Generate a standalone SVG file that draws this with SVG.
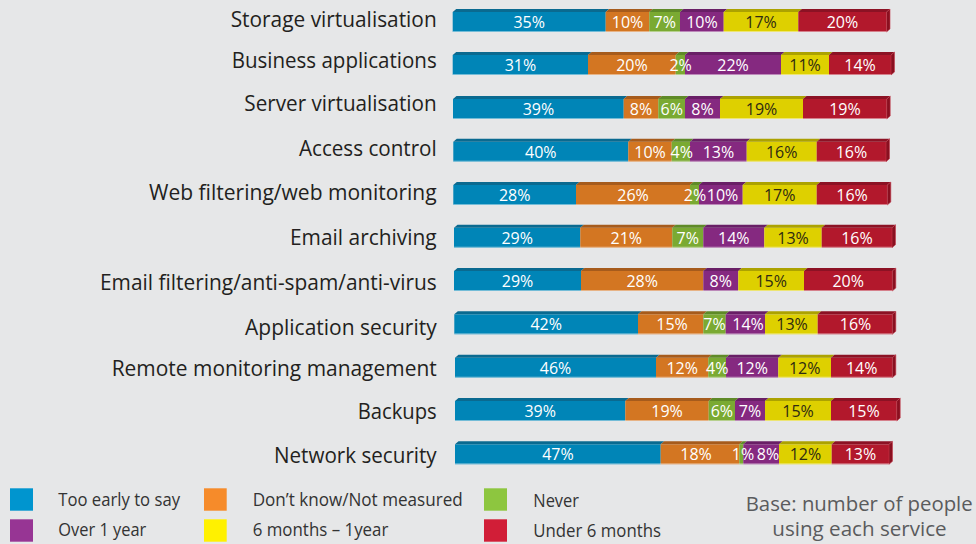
<svg xmlns="http://www.w3.org/2000/svg" width="976" height="544" viewBox="0 0 976 544">
  <style>
    .lbl { font-family: "Open Sans", "Noto Sans", sans-serif; font-size: 22px; fill: #231F20; text-anchor: end; }
    .pct { font-family: "Open Sans", "Noto Sans", sans-serif; font-size: 16px; fill: #FFFFFF; text-anchor: middle; }
    .pct.dk { fill: #2E2A12; }
    .leg { font-family: "Open Sans", "Noto Sans", sans-serif; font-size: 18px; fill: #333333; }
    .base { font-family: "Open Sans", "Noto Sans", sans-serif; font-size: 20px; fill: #5A5B5D; text-anchor: middle; }
    .f1 { fill: #0085B7; } .t1 { fill: #0A6A90; }
    .f2 { fill: #D37622; } .t2 { fill: #A65B1C; }
    .f3 { fill: #7AAA32; } .t3 { fill: #5F8A27; }
    .f4 { fill: #852980; } .t4 { fill: #691F66; }
    .f5 { fill: #DED000; } .t5 { fill: #ACA200; }
    .f6 { fill: #B2182C; } .t6 { fill: #8C1224; }
    .side { fill: #8A1020; stroke: #C23A4C; stroke-width: 0.6; }
    .edge { stroke: #FFFFFF; stroke-opacity: 0.45; stroke-width: 1; fill: none; }
    .k1 { fill: #0095CF; } .k2 { fill: #F68B2A; } .k3 { fill: #8DC63F; }
    .k4 { fill: #973594; } .k5 { fill: #FFF100; } .k6 { fill: #D11E37; }
  </style>

  <rect width="976" height="544" fill="#E6E7E8"/>

  <!-- Storage virtualisation -->
  <g id="row-storage-virtualisation" transform="translate(0,12)">
    <text class="lbl" x="436.7" y="14.7" textLength="206" lengthAdjust="spacingAndGlyphs">Storage virtualisation</text>
    <rect class="f1" x="452.7" y="0" width="153" height="20"/><polygon class="t1" points="452.7,0 456.2,-3 609.2,-3 605.7,0"/>
    <rect class="f2" x="605.7" y="0" width="43.6" height="20"/><polygon class="t2" points="605.7,0 609.2,-3 652.8,-3 649.3,0"/>
    <rect class="f3" x="649.3" y="0" width="30.7" height="20"/><polygon class="t3" points="649.3,0 652.8,-3 683.5,-3 680,0"/>
    <rect class="f4" x="680" y="0" width="43.7" height="20"/><polygon class="t4" points="680,0 683.5,-3 727.2,-3 723.7,0"/>
    <rect class="f5" x="723.7" y="0" width="74.6" height="20"/><polygon class="t5" points="723.7,0 727.2,-3 801.8,-3 798.3,0"/>
    <rect class="f6" x="798.3" y="0" width="88.2" height="20"/><polygon class="t6" points="798.3,0 801.8,-3 890,-3 886.5,0"/>
    <polygon class="side" points="886.5,0 890,-3 890,17 886.5,20"/>
    <line class="edge" x1="452.7" y1="19.5" x2="886.5" y2="19.5"/>
    <text class="pct" x="529.2" y="15.8">35%</text>
    <text class="pct" x="627.5" y="15.8">10%</text>
    <text class="pct" x="664.7" y="15.8">7%</text>
    <text class="pct" x="701.9" y="15.8">10%</text>
    <text class="pct dk" x="761" y="15.8">17%</text>
    <text class="pct" x="842.4" y="15.8">20%</text>
  </g>

  <!-- Business applications -->
  <g id="row-business-applications" transform="translate(0,55)">
    <text class="lbl" x="436.7" y="13.3" textLength="205" lengthAdjust="spacingAndGlyphs">Business applications</text>
    <rect class="f1" x="452.7" y="0" width="135.3" height="20"/><polygon class="t1" points="452.7,0 456.2,-3 591.5,-3 588,0"/>
    <rect class="f2" x="588" y="0" width="87.7" height="20"/><polygon class="t2" points="588,0 591.5,-3 679.2,-3 675.7,0"/>
    <rect class="f3" x="675.7" y="0" width="9.3" height="20"/><polygon class="t3" points="675.7,0 679.2,-3 688.5,-3 685,0"/>
    <rect class="f4" x="685" y="0" width="96" height="20"/><polygon class="t4" points="685,0 688.5,-3 784.5,-3 781,0"/>
    <rect class="f5" x="781" y="0" width="48" height="20"/><polygon class="t5" points="781,0 784.5,-3 832.5,-3 829,0"/>
    <rect class="f6" x="829" y="0" width="62" height="20"/><polygon class="t6" points="829,0 832.5,-3 894.5,-3 891,0"/>
    <polygon class="side" points="891,0 894.5,-3 894.5,17 891,20"/>
    <line class="edge" x1="452.7" y1="19.5" x2="891" y2="19.5"/>
    <text class="pct" x="520.4" y="15.8">31%</text>
    <text class="pct" x="631.9" y="15.8">20%</text>
    <text class="pct" x="680.6" y="15.8">2%</text>
    <text class="pct" x="733" y="15.8">22%</text>
    <text class="pct dk" x="805" y="15.8">11%</text>
    <text class="pct" x="860" y="15.8">14%</text>
  </g>

  <!-- Server virtualisation -->
  <g id="row-server-virtualisation" transform="translate(0,99)">
    <text class="lbl" x="436.7" y="12" textLength="192.4" lengthAdjust="spacingAndGlyphs">Server virtualisation</text>
    <rect class="f1" x="453" y="0" width="170.7" height="20"/><polygon class="t1" points="453,0 456.5,-3 627.2,-3 623.7,0"/>
    <rect class="f2" x="623.7" y="0" width="34.6" height="20"/><polygon class="t2" points="623.7,0 627.2,-3 661.8,-3 658.3,0"/>
    <rect class="f3" x="658.3" y="0" width="26.7" height="20"/><polygon class="t3" points="658.3,0 661.8,-3 688.5,-3 685,0"/>
    <rect class="f4" x="685" y="0" width="35" height="20"/><polygon class="t4" points="685,0 688.5,-3 723.5,-3 720,0"/>
    <rect class="f5" x="720" y="0" width="83" height="20"/><polygon class="t5" points="720,0 723.5,-3 806.5,-3 803,0"/>
    <rect class="f6" x="803" y="0" width="83.7" height="20"/><polygon class="t6" points="803,0 806.5,-3 890.2,-3 886.7,0"/>
    <polygon class="side" points="886.7,0 890.2,-3 890.2,17 886.7,20"/>
    <line class="edge" x1="453" y1="19.5" x2="886.7" y2="19.5"/>
    <text class="pct" x="538.4" y="15.8">39%</text>
    <text class="pct" x="641" y="15.8">8%</text>
    <text class="pct" x="671.7" y="15.8">6%</text>
    <text class="pct" x="702.5" y="15.8">8%</text>
    <text class="pct dk" x="761.5" y="15.8">19%</text>
    <text class="pct" x="844.9" y="15.8">19%</text>
  </g>

  <!-- Access control -->
  <g id="row-access-control" transform="translate(0,141.7)">
    <text class="lbl" x="436.7" y="14.3" textLength="137.7" lengthAdjust="spacingAndGlyphs">Access control</text>
    <rect class="f1" x="453.3" y="0" width="175" height="20"/><polygon class="t1" points="453.3,0 456.8,-3 631.8,-3 628.3,0"/>
    <rect class="f2" x="628.3" y="0" width="43.4" height="20"/><polygon class="t2" points="628.3,0 631.8,-3 675.2,-3 671.7,0"/>
    <rect class="f3" x="671.7" y="0" width="18.3" height="20"/><polygon class="t3" points="671.7,0 675.2,-3 693.5,-3 690,0"/>
    <rect class="f4" x="690" y="0" width="56.7" height="20"/><polygon class="t4" points="690,0 693.5,-3 750.2,-3 746.7,0"/>
    <rect class="f5" x="746.7" y="0" width="70" height="20"/><polygon class="t5" points="746.7,0 750.2,-3 820.2,-3 816.7,0"/>
    <rect class="f6" x="816.7" y="0" width="69.3" height="20"/><polygon class="t6" points="816.7,0 820.2,-3 889.5,-3 886,0"/>
    <polygon class="side" points="886,0 889.5,-3 889.5,17 886,20"/>
    <line class="edge" x1="453.3" y1="19.5" x2="886" y2="19.5"/>
    <text class="pct" x="540.8" y="15.8">40%</text>
    <text class="pct" x="650" y="15.8">10%</text>
    <text class="pct" x="681.8" y="15.8">4%</text>
    <text class="pct" x="718.4" y="15.8">13%</text>
    <text class="pct dk" x="781.7" y="15.8">16%</text>
    <text class="pct" x="851.4" y="15.8">16%</text>
  </g>

  <!-- Web filtering/web monitoring -->
  <g id="row-web-filtering" transform="translate(0,185)">
    <text class="lbl" x="436.7" y="15" textLength="287.7" lengthAdjust="spacingAndGlyphs">Web filtering/web monitoring</text>
    <rect class="f1" x="453.3" y="0" width="122.7" height="20"/><polygon class="t1" points="453.3,0 456.8,-3 579.5,-3 576,0"/>
    <rect class="f2" x="576" y="0" width="114" height="20"/><polygon class="t2" points="576,0 579.5,-3 693.5,-3 690,0"/>
    <rect class="f3" x="690" y="0" width="9" height="20"/><polygon class="t3" points="690,0 693.5,-3 702.5,-3 699,0"/>
    <rect class="f4" x="699" y="0" width="43.7" height="20"/><polygon class="t4" points="699,0 702.5,-3 746.2,-3 742.7,0"/>
    <rect class="f5" x="742.7" y="0" width="74" height="20"/><polygon class="t5" points="742.7,0 746.2,-3 820.2,-3 816.7,0"/>
    <rect class="f6" x="816.7" y="0" width="70.6" height="20"/><polygon class="t6" points="816.7,0 820.2,-3 890.8,-3 887.3,0"/>
    <polygon class="side" points="887.3,0 890.8,-3 890.8,17 887.3,20"/>
    <line class="edge" x1="453.3" y1="19.5" x2="887.3" y2="19.5"/>
    <text class="pct" x="514.7" y="15.8">28%</text>
    <text class="pct" x="633" y="15.8">26%</text>
    <text class="pct" x="695" y="15.8">2%</text>
    <text class="pct" x="722.5" y="15.8">10%</text>
    <text class="pct dk" x="779.7" y="15.8">17%</text>
    <text class="pct" x="852" y="15.8">16%</text>
  </g>

  <!-- Email archiving -->
  <g id="row-email-archiving" transform="translate(0,227.7)">
    <text class="lbl" x="436.7" y="16.8" textLength="146.7" lengthAdjust="spacingAndGlyphs">Email archiving</text>
    <rect class="f1" x="454" y="0" width="126.3" height="20"/><polygon class="t1" points="454,0 457.5,-3 583.8,-3 580.3,0"/>
    <rect class="f2" x="580.3" y="0" width="92" height="20"/><polygon class="t2" points="580.3,0 583.8,-3 675.8,-3 672.3,0"/>
    <rect class="f3" x="672.3" y="0" width="31" height="20"/><polygon class="t3" points="672.3,0 675.8,-3 706.8,-3 703.3,0"/>
    <rect class="f4" x="703.3" y="0" width="61" height="20"/><polygon class="t4" points="703.3,0 706.8,-3 767.8,-3 764.3,0"/>
    <rect class="f5" x="764.3" y="0" width="57.4" height="20"/><polygon class="t5" points="764.3,0 767.8,-3 825.2,-3 821.7,0"/>
    <rect class="f6" x="821.7" y="0" width="70.3" height="20"/><polygon class="t6" points="821.7,0 825.2,-3 895.5,-3 892,0"/>
    <polygon class="side" points="892,0 895.5,-3 895.5,17 892,20"/>
    <line class="edge" x1="454" y1="19.5" x2="892" y2="19.5"/>
    <text class="pct" x="517.2" y="15.8">29%</text>
    <text class="pct" x="626.3" y="15.8">21%</text>
    <text class="pct" x="687.8" y="15.8">7%</text>
    <text class="pct" x="733.8" y="15.8">14%</text>
    <text class="pct dk" x="793" y="15.8">13%</text>
    <text class="pct" x="856.9" y="15.8">16%</text>
  </g>

  <!-- Email filtering/anti-spam/anti-virus -->
  <g id="row-email-filtering" transform="translate(0,271)">
    <text class="lbl" x="436.7" y="19" textLength="336.7" lengthAdjust="spacingAndGlyphs">Email filtering/anti-spam/anti-virus</text>
    <rect class="f1" x="454" y="0" width="127" height="20"/><polygon class="t1" points="454,0 457.5,-3 584.5,-3 581,0"/>
    <rect class="f2" x="581" y="0" width="122.3" height="20"/><polygon class="t2" points="581,0 584.5,-3 706.8,-3 703.3,0"/>
    <rect class="f4" x="703.3" y="0" width="35" height="20"/><polygon class="t4" points="703.3,0 706.8,-3 741.8,-3 738.3,0"/>
    <rect class="f5" x="738.3" y="0" width="65.7" height="20"/><polygon class="t5" points="738.3,0 741.8,-3 807.5,-3 804,0"/>
    <rect class="f6" x="804" y="0" width="88.3" height="20"/><polygon class="t6" points="804,0 807.5,-3 895.8,-3 892.3,0"/>
    <polygon class="side" points="892.3,0 895.8,-3 895.8,17 892.3,20"/>
    <line class="edge" x1="454" y1="19.5" x2="892.3" y2="19.5"/>
    <text class="pct" x="517.5" y="15.8">29%</text>
    <text class="pct" x="642.2" y="15.8">28%</text>
    <text class="pct" x="720.8" y="15.8">8%</text>
    <text class="pct dk" x="771.2" y="15.8">15%</text>
    <text class="pct" x="848.2" y="15.8">20%</text>
  </g>

  <!-- Application security -->
  <g id="row-application-security" transform="translate(0,314.3)">
    <text class="lbl" x="436.7" y="20.7" textLength="191.7" lengthAdjust="spacingAndGlyphs">Application security</text>
    <rect class="f1" x="454.3" y="0" width="183.7" height="20"/><polygon class="t1" points="454.3,0 457.8,-3 641.5,-3 638,0"/>
    <rect class="f2" x="638" y="0" width="65.3" height="20"/><polygon class="t2" points="638,0 641.5,-3 706.8,-3 703.3,0"/>
    <rect class="f3" x="703.3" y="0" width="22.4" height="20"/><polygon class="t3" points="703.3,0 706.8,-3 729.2,-3 725.7,0"/>
    <rect class="f4" x="725.7" y="0" width="39.3" height="20"/><polygon class="t4" points="725.7,0 729.2,-3 768.5,-3 765,0"/>
    <rect class="f5" x="765" y="0" width="52.7" height="20"/><polygon class="t5" points="765,0 768.5,-3 821.2,-3 817.7,0"/>
    <rect class="f6" x="817.7" y="0" width="74.6" height="20"/><polygon class="t6" points="817.7,0 821.2,-3 895.8,-3 892.3,0"/>
    <polygon class="side" points="892.3,0 895.8,-3 895.8,17 892.3,20"/>
    <line class="edge" x1="454.3" y1="19.5" x2="892.3" y2="19.5"/>
    <text class="pct" x="546.2" y="15.8">42%</text>
    <text class="pct" x="672" y="15.8">15%</text>
    <text class="pct" x="714.5" y="15.8">7%</text>
    <text class="pct" x="748" y="15.8">14%</text>
    <text class="pct dk" x="792" y="15.8">13%</text>
    <text class="pct" x="855.5" y="15.8">16%</text>
  </g>

  <!-- Remote monitoring management -->
  <g id="row-remote-monitoring" transform="translate(0,357.7)">
    <text class="lbl" x="436.7" y="18" textLength="325" lengthAdjust="spacingAndGlyphs">Remote monitoring management</text>
    <rect class="f1" x="455" y="0" width="201" height="20"/><polygon class="t1" points="455,0 458.5,-3 659.5,-3 656,0"/>
    <rect class="f2" x="656" y="0" width="52.3" height="20"/><polygon class="t2" points="656,0 659.5,-3 711.8,-3 708.3,0"/>
    <rect class="f3" x="708.3" y="0" width="17.7" height="20"/><polygon class="t3" points="708.3,0 711.8,-3 729.5,-3 726,0"/>
    <rect class="f4" x="726" y="0" width="52.3" height="20"/><polygon class="t4" points="726,0 729.5,-3 781.8,-3 778.3,0"/>
    <rect class="f5" x="778.3" y="0" width="52.7" height="20"/><polygon class="t5" points="778.3,0 781.8,-3 834.5,-3 831,0"/>
    <rect class="f6" x="831" y="0" width="61.3" height="20"/><polygon class="t6" points="831,0 834.5,-3 895.8,-3 892.3,0"/>
    <polygon class="side" points="892.3,0 895.8,-3 895.8,17 892.3,20"/>
    <line class="edge" x1="455" y1="19.5" x2="892.3" y2="19.5"/>
    <text class="pct" x="555.5" y="15.8">46%</text>
    <text class="pct" x="682.2" y="15.8">12%</text>
    <text class="pct" x="717.2" y="15.8">4%</text>
    <text class="pct" x="752.2" y="15.8">12%</text>
    <text class="pct dk" x="804.7" y="15.8">12%</text>
    <text class="pct" x="861.7" y="15.8">14%</text>
  </g>

  <!-- Backups -->
  <g id="row-backups" transform="translate(0,401)">
    <text class="lbl" x="436.7" y="18.3" textLength="79" lengthAdjust="spacingAndGlyphs">Backups</text>
    <rect class="f1" x="455" y="0" width="170.3" height="20"/><polygon class="t1" points="455,0 458.5,-3 628.8,-3 625.3,0"/>
    <rect class="f2" x="625.3" y="0" width="83.4" height="20"/><polygon class="t2" points="625.3,0 628.8,-3 712.2,-3 708.7,0"/>
    <rect class="f3" x="708.7" y="0" width="26.3" height="20"/><polygon class="t3" points="708.7,0 712.2,-3 738.5,-3 735,0"/>
    <rect class="f4" x="735" y="0" width="30" height="20"/><polygon class="t4" points="735,0 738.5,-3 768.5,-3 765,0"/>
    <rect class="f5" x="765" y="0" width="66" height="20"/><polygon class="t5" points="765,0 768.5,-3 834.5,-3 831,0"/>
    <rect class="f6" x="831" y="0" width="65.7" height="20"/><polygon class="t6" points="831,0 834.5,-3 900.2,-3 896.7,0"/>
    <polygon class="side" points="896.7,0 900.2,-3 900.2,17 896.7,20"/>
    <line class="edge" x1="455" y1="19.5" x2="896.7" y2="19.5"/>
    <text class="pct" x="540.2" y="15.8">39%</text>
    <text class="pct" x="667" y="15.8">19%</text>
    <text class="pct" x="721.9" y="15.8">6%</text>
    <text class="pct" x="750" y="15.8">7%</text>
    <text class="pct dk" x="798" y="15.8">15%</text>
    <text class="pct" x="863.9" y="15.8">15%</text>
  </g>

  <!-- Network security -->
  <g id="row-network-security" transform="translate(0,444.3)">
    <text class="lbl" x="436.7" y="19" textLength="162.7" lengthAdjust="spacingAndGlyphs">Network security</text>
    <rect class="f1" x="455" y="0" width="205.7" height="20"/><polygon class="t1" points="455,0 458.5,-3 664.2,-3 660.7,0"/>
    <rect class="f2" x="660.7" y="0" width="78.6" height="20"/><polygon class="t2" points="660.7,0 664.2,-3 742.8,-3 739.3,0"/>
    <rect class="f3" x="739.3" y="0" width="4" height="20"/><polygon class="t3" points="739.3,0 742.8,-3 746.8,-3 743.3,0"/>
    <rect class="f4" x="743.3" y="0" width="35.7" height="20"/><polygon class="t4" points="743.3,0 746.8,-3 782.5,-3 779,0"/>
    <rect class="f5" x="779" y="0" width="52.7" height="20"/><polygon class="t5" points="779,0 782.5,-3 835.2,-3 831.7,0"/>
    <rect class="f6" x="831.7" y="0" width="57.3" height="20"/><polygon class="t6" points="831.7,0 835.2,-3 892.5,-3 889,0"/>
    <polygon class="side" points="889,0 892.5,-3 892.5,17 889,20"/>
    <line class="edge" x1="455" y1="19.5" x2="889" y2="19.5"/>
    <text class="pct" x="557.9" y="15.8">47%</text>
    <text class="pct" x="696" y="15.8">18%</text>
    <text class="pct" x="743" y="15.8">1%</text>
    <text class="pct" x="768" y="15.8">8%</text>
    <text class="pct dk" x="805.4" y="15.8">12%</text>
    <text class="pct" x="860.4" y="15.8">13%</text>
  </g>

  <!-- Legend -->
  <g id="legend">
    <rect class="k1" x="10" y="488.3" width="23" height="22.4"/>
    <text class="leg" x="58.3" y="506" textLength="121.7" lengthAdjust="spacingAndGlyphs">Too early to say</text>
    <rect class="k2" x="204" y="488.3" width="22.7" height="22.4"/>
    <text class="leg" x="252.7" y="506" textLength="210" lengthAdjust="spacingAndGlyphs">Don’t know/Not measured</text>
    <rect class="k3" x="484" y="488.3" width="23" height="22.4"/>
    <text class="leg" x="533.3" y="506.5" textLength="45.7" lengthAdjust="spacingAndGlyphs">Never</text>
    <rect class="k4" x="10" y="519.3" width="23" height="22.4"/>
    <text class="leg" x="58.3" y="536" textLength="88" lengthAdjust="spacingAndGlyphs">Over 1 year</text>
    <rect class="k5" x="204" y="519.3" width="22.7" height="22.4"/>
    <text class="leg" x="252.7" y="536" textLength="135.7" lengthAdjust="spacingAndGlyphs">6 months – 1year</text>
    <rect class="k6" x="484" y="519.3" width="23" height="22.4"/>
    <text class="leg" x="533.3" y="536.5" textLength="127.7" lengthAdjust="spacingAndGlyphs">Under 6 months</text>
  </g>

  <!-- Footnote -->
  <g id="base-note">
    <text class="base" x="859.2" y="510.7" textLength="227" lengthAdjust="spacingAndGlyphs">Base: number of people</text>
    <text class="base" x="859.5" y="535.5" textLength="174.3" lengthAdjust="spacingAndGlyphs">using each service</text>
  </g>
</svg>
